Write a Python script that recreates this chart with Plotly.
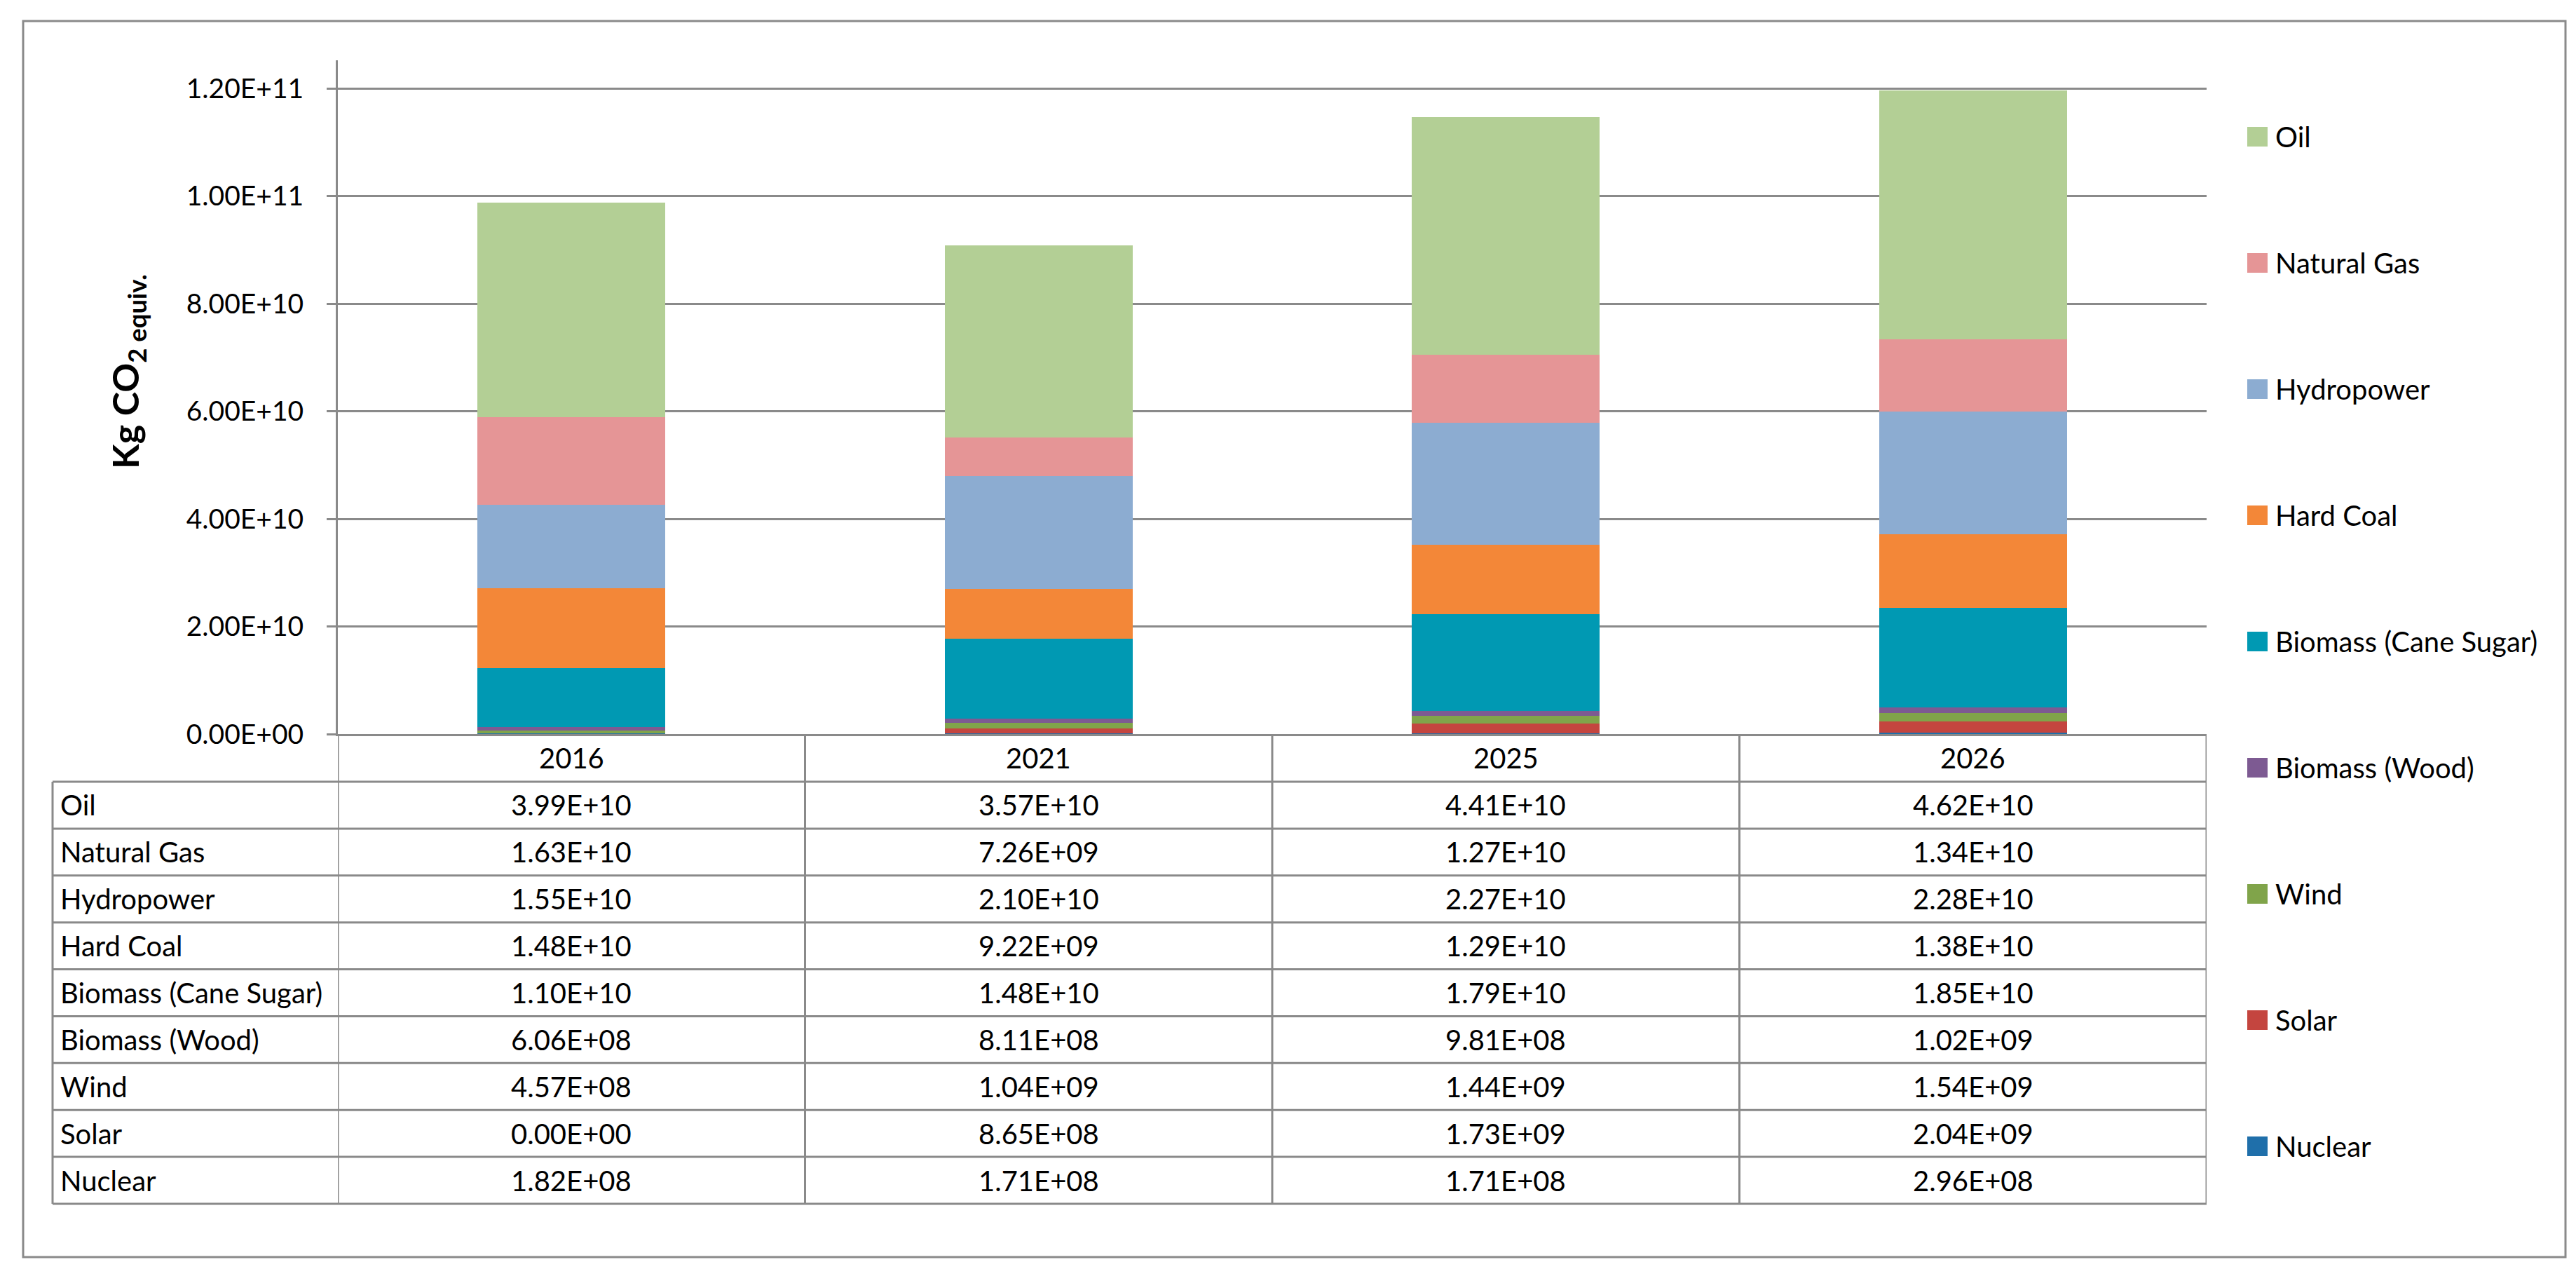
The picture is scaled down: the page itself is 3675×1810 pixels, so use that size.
import plotly.graph_objects as go

# ---------------- data ----------------
years = ["2016", "2021", "2025", "2026"]
series_names = ["Nuclear", "Solar", "Wind", "Biomass (Wood)", "Biomass (Cane Sugar)",
                "Hard Coal", "Hydropower", "Natural Gas", "Oil"]
nuclear = [1.82e8, 1.71e8, 1.71e8, 2.96e8]
solar = [0.0, 8.65e8, 1.73e9, 2.04e9]
wind = [4.57e8, 1.04e9, 1.44e9, 1.54e9]
biomass_wood = [6.06e8, 8.11e8, 9.81e8, 1.02e9]
biomass_cane = [1.10e10, 1.48e10, 1.79e10, 1.85e10]
hard_coal = [1.48e10, 9.22e9, 1.29e10, 1.38e10]
hydropower = [1.55e10, 2.10e10, 2.27e10, 2.28e10]
natural_gas = [1.63e10, 7.26e9, 1.27e10, 1.34e10]
oil = [3.99e10, 3.57e10, 4.41e10, 4.62e10]
series_values = [nuclear, solar, wind, biomass_wood, biomass_cane,
                 hard_coal, hydropower, natural_gas, oil]
colors = ["#1F6FAA", "#C4453F", "#80A44A", "#7D5A92", "#0099B3",
          "#F38738", "#8CACD1", "#E59596", "#B3CF95"]
y_tickvals = [0, 2e10, 4e10, 6e10, 8e10, 1e11, 1.2e11]
y_ticktext = [f"{v:.2E}" for v in y_tickvals]
y_title = "<b>Kg CO<sub>2 equiv.</sub></b>"

# ---------------- layout geometry (pixels) ----------------
W_FIG, H_FIG = 3675, 1810
L, R, T, B = 474, 3140, 78, 1039
PW, PH = R - L, B - T
FONT = "Lato"
GRAY = "#8A8A8A"
FS = 40


def px(x):
    return (x - L) / PW


def py(y):
    return (B - y) / PH


fig = go.Figure()
for name, vals, col in zip(series_names, series_values, colors):
    fig.add_trace(go.Bar(x=years, y=vals, name=name, marker_color=col,
                         marker_line_width=0, showlegend=False))

shapes = []
annotations = []

# outer border
shapes.append(dict(type="rect", xref="paper", yref="paper",
                   x0=px(25), x1=px(3652), y0=py(1785), y1=py(22),
                   line=dict(color=GRAY, width=3), fillcolor="rgba(0,0,0,0)",
                   layer="below"))

# ---------------- data table ----------------
row_top = 1107
row_h = (1709 - 1107) / 9
table_left = 67
for k in range(len(years) + 1):
    shapes.append(dict(type="line", xref="x", yref="paper",
                       x0=k - 0.5, x1=k - 0.5, y0=py(1039), y1=py(1709),
                       line=dict(color=GRAY, width=3)))
shapes.append(dict(type="line", xref="paper", yref="paper",
                   x0=px(table_left), x1=px(table_left), y0=py(row_top), y1=py(1709),
                   line=dict(color=GRAY, width=3)))
for k in range(len(series_names) + 1):
    yy = row_top + k * row_h
    shapes.append(dict(type="line", xref="paper", yref="paper",
                       x0=px(table_left), x1=1, y0=py(yy), y1=py(yy),
                       line=dict(color=GRAY, width=3)))
for i, yr in enumerate(years):
    annotations.append(dict(x=i, y=py((1039 + row_top) / 2), xref="x", yref="paper",
                            text=yr, showarrow=False, xanchor="center", yanchor="middle",
                            font=dict(family=FONT, size=FS, color="black")))
table_rows = list(zip(series_names, series_values))[::-1]
for r, (name, vals) in enumerate(table_rows):
    yc = py(row_top + (r + 0.5) * row_h)
    annotations.append(dict(x=px(76), y=yc, xref="paper", yref="paper", text=name,
                            showarrow=False, xanchor="left", yanchor="middle",
                            font=dict(family=FONT, size=FS, color="black")))
    for i, v in enumerate(vals):
        annotations.append(dict(x=i, y=yc, xref="x", yref="paper", text=f"{v:.2E}",
                                showarrow=False, xanchor="center", yanchor="middle",
                                font=dict(family=FONT, size=FS, color="black")))

# ---------------- legend (drawn) ----------------
legend_items = list(zip(series_names, colors))[::-1]
for j, (name, col) in enumerate(legend_items):
    yc = 187 + j * 180
    shapes.append(dict(type="rect", xref="paper", yref="paper",
                       x0=px(3198), x1=px(3227), y0=py(yc + 14), y1=py(yc - 14),
                       fillcolor=col, line=dict(width=0)))
    annotations.append(dict(x=px(3236), y=py(yc), xref="paper", yref="paper", text=name,
                            showarrow=False, xanchor="left", yanchor="middle",
                            font=dict(family=FONT, size=FS, color="black")))

# y axis title
annotations.append(dict(x=px(174), y=py(522), xref="paper", yref="paper", text=y_title,
                        textangle=-90, showarrow=False, xanchor="center", yanchor="middle",
                        font=dict(family=FONT, size=52, color="black")))

fig.update_layout(
    width=W_FIG, height=H_FIG,
    margin=dict(l=L, r=W_FIG - R, t=T, b=H_FIG - B, pad=0),
    paper_bgcolor="white", plot_bgcolor="white",
    barmode="stack", bargap=0.598,
    showlegend=False,
    shapes=shapes, annotations=annotations,
    font=dict(family=FONT, size=FS, color="black"),
)
fig.update_xaxes(type="category", showticklabels=False, ticks="", showgrid=False,
                 showline=True, linecolor=GRAY, linewidth=3, zeroline=False,
                 range=[-0.5, len(years) - 0.5])
fig.update_yaxes(range=[0, 1.2e11 * PH / (B - 118)], tickvals=y_tickvals, ticktext=y_ticktext,
                 ticks="outside", ticklen=13, tickwidth=3, tickcolor=GRAY,
                 showgrid=True, gridcolor=GRAY, gridwidth=3,
                 showline=True, linecolor=GRAY, linewidth=3, zeroline=False,
                 tickfont=dict(family=FONT, size=39, color="black"),
                 ticklabelstandoff=25)

fig.write_html("out.html")
